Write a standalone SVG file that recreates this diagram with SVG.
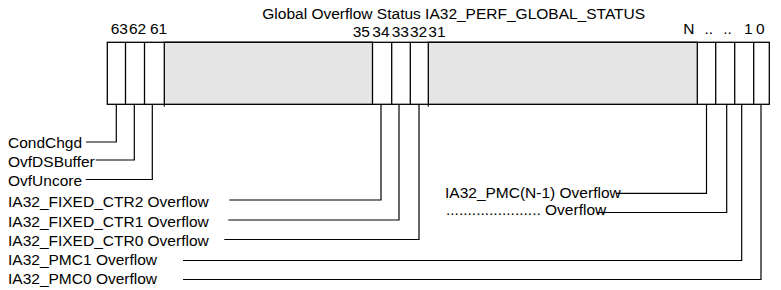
<svg xmlns="http://www.w3.org/2000/svg" width="781" height="290" viewBox="0 0 781 290">
  <style>
    text { font-family: "Liberation Sans", Arial, sans-serif; font-size: 15.5px; fill: #000; }
    .cell { fill: #fff; stroke: #000; stroke-width: 1.3; }
    .gray { fill: #e5e5e5; stroke: #000; stroke-width: 1.3; }
    .lead { fill: none; stroke: #000; stroke-width: 1.2; }
  </style>
  <rect width="781" height="290" fill="#fff"/>

  <text x="262.3" y="19">Global Overflow Status IA32_PERF_GLOBAL_STATUS</text>

  <!-- bit numbers -->
  <g id="bit-numbers">
    <text x="110.7" y="34.3">63</text>
    <text x="129" y="34.3">62</text>
    <text x="150" y="34.3">61</text>
    <text x="352.7" y="36.7">35</text>
    <text x="372.3" y="36.7">34</text>
    <text x="391.7" y="36.7">33</text>
    <text x="410" y="36.7">32</text>
    <text x="428.3" y="36.7">31</text>
    <text x="683.3" y="34">N</text>
    <text x="704.5" y="34">..</text>
    <text x="723.3" y="34">..</text>
    <text x="744" y="34">1</text>
    <text x="756" y="34">0</text>
  </g>

  <!-- register fields -->
  <g id="register">
    <rect class="cell" x="107.3" y="42.3" width="662" height="62"/>
    <rect class="gray" x="164.3" y="42.3" width="208.2" height="62"/>
    <rect class="gray" x="428.3" y="42.3" width="269" height="62"/>
    <line class="lead" x1="164.3" y1="104" x2="164.3" y2="106.5"/>
    <line class="lead" x1="428.3" y1="104" x2="428.3" y2="106.5"/>
    <line class="cell" x1="125.5" y1="42.3" x2="125.5" y2="104.3"/>
    <line class="cell" x1="144.5" y1="42.3" x2="144.5" y2="104.3"/>
    <line class="cell" x1="391.7" y1="42.3" x2="391.7" y2="104.3"/>
    <line class="cell" x1="410.3" y1="42.3" x2="410.3" y2="104.3"/>
    <line class="cell" x1="715.7" y1="42.3" x2="715.7" y2="104.3"/>
    <line class="cell" x1="734.7" y1="42.3" x2="734.7" y2="104.3"/>
    <line class="cell" x1="753.7" y1="42.3" x2="753.7" y2="104.3"/>
  </g>

  <!-- field labels -->
  <g id="labels">
    <text x="8" y="147.7">CondChgd</text>
    <text x="8" y="167">OvfDSBuffer</text>
    <text x="8" y="186">OvfUncore</text>
    <text x="8" y="207.3">IA32_FIXED_CTR2 Overflow</text>
    <text x="8" y="226.7">IA32_FIXED_CTR1 Overflow</text>
    <text x="8" y="246">IA32_FIXED_CTR0 Overflow</text>
    <text x="8" y="265.3">IA32_PMC1 Overflow</text>
    <text x="8" y="284.3">IA32_PMC0 Overflow</text>
    <text x="445" y="198.3">IA32_PMC(N-1) Overflow</text>
    <text x="446" y="215.3">...................... Overflow</text>
  </g>

  <!-- leader lines -->
  <g id="connectors">
    <polyline class="lead" points="86,142 116.3,142 116.3,104.3"/>
    <polyline class="lead" points="95.7,160 134.3,160 134.3,104.3"/>
    <polyline class="lead" points="85.7,179.5 152.3,179.5 152.3,104.3"/>
    <polyline class="lead" points="229.3,200 381,200 381,104.3"/>
    <polyline class="lead" points="228.3,220 399,220 399,104.3"/>
    <polyline class="lead" points="224.3,239.5 419,239.5 419,104.3"/>
    <polyline class="lead" points="183,260.5 741.7,260.5 741.7,104.3"/>
    <polyline class="lead" points="183,279.5 761,279.5 761,104.3"/>
    <polyline class="lead" points="616,193.3 706.5,193.3 706.5,104.3"/>
    <polyline class="lead" points="596.7,212.5 726.7,212.5 726.7,104.3"/>
  </g>
</svg>
